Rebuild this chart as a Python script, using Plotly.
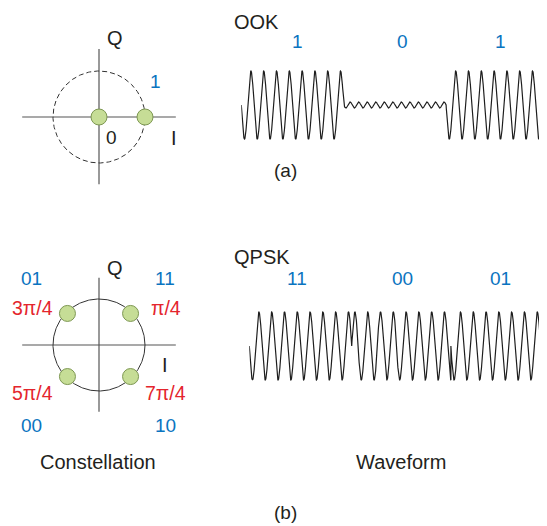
import numpy as np
import plotly.graph_objects as go

# ---------------- data ----------------
# OOK
ook_bits = ["1", "0", "1"]
ook_amplitudes = [1.0, 0.09, 1.0]
ook_cycles_per_bit = [8, 12, 8]
ook_bit_edges = [0, 8, 16, 24]          # time in carrier cycles
ook_const_I = [0.0, 1.0]
ook_const_Q = [0.0, 0.0]
ook_const_labels = ["0", "1"]

# QPSK
qpsk_symbols = ["11", "00", "01"]
qpsk_phases = [np.pi / 4, 5 * np.pi / 4, 3 * np.pi / 4]
qpsk_bit_edges = [0, 8, 15.75, 23.75]   # time in carrier cycles
qpsk_const_symbols = ["11", "01", "00", "10"]
qpsk_const_phase_labels = ["π/4", "3π/4", "5π/4", "7π/4"]
qpsk_const_phases = [np.pi / 4, 3 * np.pi / 4, 5 * np.pi / 4, 7 * np.pi / 4]

# ---------------- styles ----------------
VW, VH = 547, 526      # browser window
OFF = 8                # default page body margin
W, H = VW - OFF, VH - OFF
BLUE = "#0a74c0"
RED = "#e4252d"
BLACK = "#231f20"
WAVE = "#1e1e1e"
AXC = "#555555"
GFILL = "#c6dd96"
GLINE = "#7d9752"
FONT = "Liberation Sans, Arial, sans-serif"
FS_WORD = 20
FS_NUM = 19
FS_PHASE = 19.5


def fx(p):
    return (p - OFF) / W


def fy(p):
    return 1 - (p - OFF) / H


def px_dom_x(a, b):
    return [max(0, fx(a)), min(1, fx(b))]


def px_dom_y(top, bottom):
    return [max(0, fy(bottom)), min(1, fy(top))]


fig = go.Figure()

# ---- waveforms ----
def ook_wave():
    ts, ys = [], []
    for k in range(len(ook_bits)):
        t0, t1 = ook_bit_edges[k], ook_bit_edges[k + 1]
        t = np.linspace(t0, t1, 60 * ook_cycles_per_bit[k] + 1)
        f = ook_cycles_per_bit[k] / (t1 - t0)
        ts.append(t)
        ys.append(-ook_amplitudes[k] * np.sin(2 * np.pi * f * (t - t0)))
    return np.concatenate(ts), np.concatenate(ys)


def qpsk_wave():
    ts, ys = [], []
    for k in range(len(qpsk_symbols)):
        t0, t1 = qpsk_bit_edges[k], qpsk_bit_edges[k + 1]
        t = np.linspace(t0, t1, 600)
        ts.append(t)
        ys.append(np.cos(2 * np.pi * t + qpsk_phases[k] + np.pi / 4))
    return np.concatenate(ts), np.concatenate(ys)


tx, ty = ook_wave()
fig.add_trace(go.Scatter(x=tx, y=ty, mode="lines", line=dict(color=WAVE, width=1.2),
                         xaxis="x2", yaxis="y2", hoverinfo="skip"))
tx, ty = qpsk_wave()
fig.add_trace(go.Scatter(x=tx, y=ty, mode="lines", line=dict(color=WAVE, width=1.2),
                         xaxis="x4", yaxis="y4", hoverinfo="skip"))

# ---- constellations ----
theta = np.linspace(0, 2 * np.pi, 361)
for xa, ya, dash, left, right, up, down in [("x", "y", "5px,3px", 1.67, 1.67, 1.48, 1.46),
                                            ("x3", "y3", "solid", 1.67, 1.67, 1.46, 1.45)]:
    fig.add_trace(go.Scatter(x=[-left, right], y=[0, 0], mode="lines",
                             line=dict(color=AXC, width=1.2), xaxis=xa, yaxis=ya, hoverinfo="skip"))
    fig.add_trace(go.Scatter(x=[0, 0], y=[-down, up], mode="lines",
                             line=dict(color=AXC, width=1.2), xaxis=xa, yaxis=ya, hoverinfo="skip"))
    fig.add_trace(go.Scatter(x=np.cos(theta), y=np.sin(theta), mode="lines",
                             line=dict(color="#333333", width=1, dash=dash),
                             xaxis=xa, yaxis=ya, hoverinfo="skip"))

fig.add_trace(go.Scatter(x=ook_const_I, y=ook_const_Q, mode="markers",
                         marker=dict(size=16, color=GFILL, line=dict(color=GLINE, width=1)),
                         xaxis="x", yaxis="y", hoverinfo="skip"))
fig.add_trace(go.Scatter(x=[0.97 * np.cos(p) for p in qpsk_const_phases],
                         y=[0.97 * np.sin(p) for p in qpsk_const_phases], mode="markers",
                         marker=dict(size=16, color=GFILL, line=dict(color=GLINE, width=1)),
                         xaxis="x3", yaxis="y3", hoverinfo="skip"))

# ---- text ----
ann = []


def txt(s, x, y, color=BLACK, size=FS_WORD):
    ann.append(dict(text=s, x=fx(x), y=fy(y), xref="paper", yref="paper",
                    xanchor="center", yanchor="middle", showarrow=False,
                    font=dict(family=FONT, size=size, color=color)))


# (a)
txt("Q", 115, 38)
txt(ook_const_labels[1], 155, 81, BLUE, FS_NUM)
txt(ook_const_labels[0], 111.5, 138, BLACK, FS_NUM)
txt("I", 174, 138)
txt("OOK", 256.5, 22)
ook_label_x = [297, 402, 500]
for b, x in zip(ook_bits, ook_label_x):
    txt(b, x, 42, BLUE, FS_NUM)
txt("(a)", 285, 171, BLACK, FS_NUM)

# (b)
txt("Q", 115, 268)
corner_pos = {"11": (165, 278, 165.5, 308), "01": (31.5, 278, 32, 308),
              "00": (31.5, 425, 32, 393), "10": (165, 425, 165.5, 393)}
for s, pl in zip(qpsk_const_symbols, qpsk_const_phase_labels):
    sx, sy, lx, ly = corner_pos[s]
    txt(s, sx, sy, BLUE, FS_NUM)
    txt(pl, lx, ly, RED, FS_PHASE)
txt("I", 165, 365)
qpsk_label_x = [297, 402, 500]
for s, x in zip(qpsk_symbols, qpsk_label_x):
    txt(s, x, 278, BLUE, FS_NUM)
txt("QPSK", 262, 257)
txt("Constellation", 98, 462)
txt("Waveform", 401, 462)
txt("(b)", 285, 512, BLACK, FS_NUM)

# ---- axes ----
hid = dict(visible=False, fixedrange=True)
ook_x0 = 241.3
qpsk_x0 = 249.3
ppc = 12.8  # pixels per carrier cycle
cx_lo = (15 - 99) / 46
cx_hi = (199 - 99) / 46
fig.update_layout(
    width=W, height=H, margin=dict(l=0, r=0, t=0, b=0),
    paper_bgcolor="white", plot_bgcolor="rgba(0,0,0,0)", showlegend=False,
    xaxis=dict(domain=px_dom_x(15, 199), range=[cx_lo, cx_hi], **hid),
    yaxis=dict(domain=px_dom_y(25, 209), range=[-2, 2], **hid),
    xaxis2=dict(domain=px_dom_x(ook_x0, VW), range=[0, (VW - ook_x0) / ppc], anchor="y2", **hid),
    yaxis2=dict(domain=px_dom_y(64.2, 145.8), range=[-1.2, 1.2], anchor="x2", **hid),
    xaxis3=dict(domain=px_dom_x(15, 199), range=[cx_lo, cx_hi], anchor="y3", **hid),
    yaxis3=dict(domain=px_dom_y(253, 437), range=[-2, 2], anchor="x3", **hid),
    xaxis4=dict(domain=px_dom_x(qpsk_x0, VW), range=[0, (VW - qpsk_x0) / ppc], anchor="y4", **hid),
    yaxis4=dict(domain=px_dom_y(305.2, 386.8), range=[-1.2, 1.2], anchor="x4", **hid),
    annotations=ann,
)

fig.write_html("out.html")
